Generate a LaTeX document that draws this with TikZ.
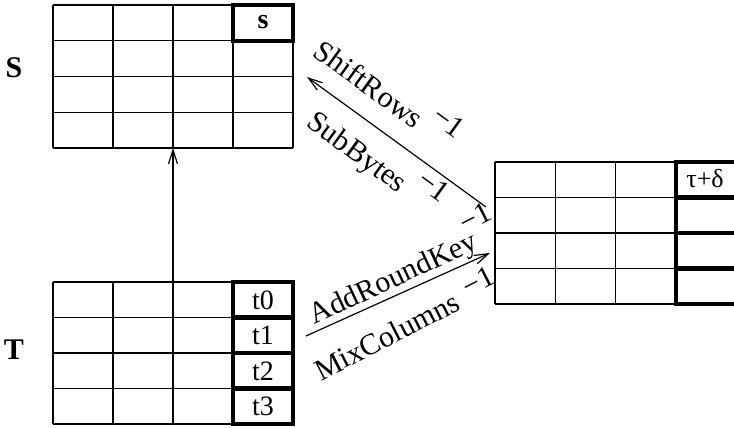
\documentclass[tikz,border=0pt]{standalone}
\usepackage{fontspec}
\setmainfont{Liberation Serif}
\usetikzlibrary{arrows.meta}
\begin{document}
\begin{tikzpicture}[x=1pt,y=-1pt,
  gridline/.style={line width=1.5pt},
  boldcell/.style={line width=4.4pt},
  lab/.style={font=\fontsize{30}{34}\selectfont, inner sep=0pt},
  celltext/.style={font=\fontsize{28}{32}\selectfont, inner sep=0pt},
  statename/.style={font=\fontsize{30}{34}\selectfont\bfseries, inner sep=0pt},
  arr/.style={line width=1.2pt, -{Straight Barb[length=14pt,width=9pt]}}]
\useasboundingbox (0,0) rectangle (734,428);

% state S (top left)
\foreach \i in {0,...,4} {
  \draw[gridline] (53,{5+35.75*\i}) -- (293,{5+35.75*\i});
  \draw[gridline] ({53+60*\i},5) -- ({53+60*\i},148);
}
\draw[boldcell] (233,5) rectangle (293,40.75);
\node[celltext, font=\fontsize{28}{32}\selectfont\bfseries] (cs) at (263,22) {s};
\node[statename] (labS) at (14,68) {S};

% state T (bottom left)
\foreach \i in {0,...,4} {
  \draw[gridline] (53,{282+35.5*\i}) -- (293,{282+35.5*\i});
  \draw[gridline] ({53+60*\i},282) -- ({53+60*\i},424);
}
\foreach \i in {0,...,3} {
  \draw[boldcell] (233,{282+35.5*\i}) rectangle (293,{317.5+35.5*\i});
  \node[celltext] (t\i) at (263,{300+35.5*\i}) {t\i};
}
\node[statename] (labT) at (14,350) {T};

% intermediate state (right)
\foreach \i in {0,...,4} {
  \draw[gridline] (495,{162+35.5*\i}) -- (740,{162+35.5*\i});
}
\foreach \i in {0,...,3} {
  \draw[gridline] ({495+60.3*\i},162) -- ({495+60.3*\i},304);
}
\foreach \i in {0,...,3} {
  \draw[boldcell] (676,{162+35.5*\i}) rectangle (740,{197.5+35.5*\i});
}
\node[celltext, font=\fontsize{26}{30}\selectfont] (td) at (705,179) {τ+δ};

% connectors
\coordinate (tTop) at (173,282);
\coordinate (sBot) at (173,148);
\coordinate (rOut) at (486,207);
\coordinate (sIn) at (307,77);
\coordinate (tOut) at (306,336);
\coordinate (rIn) at (490,253);
\draw[arr] (tTop) -- (sBot);
\draw[arr] (rOut) -- (sIn);
\draw[arr] (tOut) -- (rIn);

% operation labels
\node[lab, rotate=-36] (shr) at (369,84) {ShiftRows};
\node[lab, rotate=-36] (shrInv) at (449,122) {−1};
\node[lab, rotate=-36] (sb) at (356,154) {SubBytes};
\node[lab, rotate=-36] (sbInv) at (434,186) {−1};
\node[lab, rotate=25] (ark) at (394,280) {AddRoundKey};
\node[lab, rotate=27] (arkInv) at (475,217) {−1};
\node[lab, rotate=27] (mc) at (387,336) {MixColumns};
\node[lab, rotate=27] (mcInv) at (478,281) {−1};
\end{tikzpicture}
\end{document}
